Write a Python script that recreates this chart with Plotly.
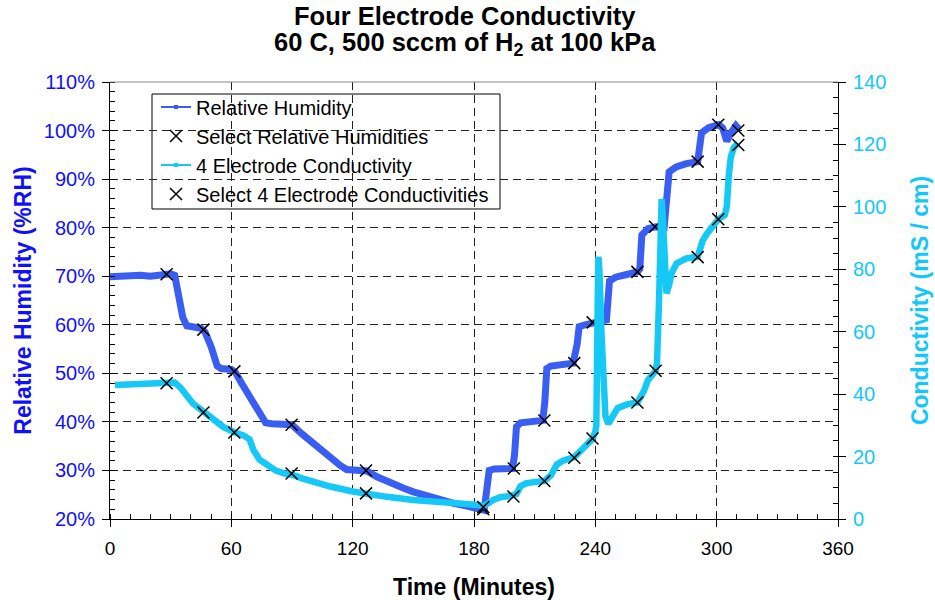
import plotly.graph_objects as go

# ---------------- data ----------------
rh_time = [0, 5, 10, 15, 20, 25, 30, 32, 34, 36, 38, 42, 45, 47, 50, 53, 55, 60, 62,
           65, 70, 74, 77, 80, 85, 90, 95, 100, 105, 110, 114, 117, 122, 127, 132, 137,
           145, 150, 157, 163, 170, 176, 183, 185, 186, 187.5, 190, 195, 199, 200, 201,
           203, 208, 214, 215, 216, 218, 223, 229, 231, 232, 235, 238.5, 243, 245.5,
           247, 250, 255, 260.8, 262, 263, 266, 270, 274, 275.5, 276.5, 280, 285, 290.6,
           291.5, 292.5, 296, 301, 303, 305, 307, 309.5, 311]
rh_value = [69.9, 70.1, 70.3, 70.2, 70.0, 70.3, 70.5, 70.2, 66.0, 61.5, 59.8, 59.6, 59.3,
            58.5, 55.5, 51.5, 51.0, 50.8, 50.2, 48.0, 44.5, 41.5, 39.8, 39.6, 39.6, 39.4,
            37.5, 35.7, 34.0, 32.3, 31.0, 30.2, 30.1, 29.9, 28.7, 27.7, 26.4, 25.6, 24.7,
            23.9, 23.2, 22.7, 22.0, 21.8, 25.0, 30.0, 30.3, 30.4, 30.4, 33.0, 39.0, 39.8,
            40.0, 40.3, 44.0, 51.0, 51.5, 51.8, 52.1, 56.0, 59.6, 60.0, 60.4, 61.0, 61.0,
            69.0, 69.8, 70.3, 70.9, 71.5, 78.5, 79.8, 80.2, 80.0, 86.0, 91.5, 92.5, 93.2,
            93.6, 96.0, 99.5, 100.6, 101.2, 100.5, 97.8, 99.5, 101.0, 100.3]

cond_time = [2.5, 10, 20, 28, 32, 35, 38, 41, 44, 47, 52, 56, 61.5, 66, 69, 71, 74, 78,
             82, 86, 90, 95, 100, 109, 120, 127, 137, 150, 163, 176, 183, 185, 189.5,
             193, 198, 201, 203, 206, 214.8, 218, 221, 224, 229.6, 233, 236, 238.5, 240,
             240.5, 241, 241.5, 242, 243, 244, 245, 246.4, 248, 251, 256, 260.8, 264, 266,
             269.8, 270.5, 271.5, 272.3, 272.8, 273.5, 274.3, 275.2, 276.5, 277.7, 280.2,
             285, 290.6, 293, 295.3, 298.6, 300.8, 304, 305, 306, 307, 308.5, 310.5]
cond_value = [42.9, 43.1, 43.3, 43.5, 43.7, 42.0, 39.5, 37.0, 35.5, 34.0, 31.5, 29.5, 27.8,
              26.8, 25.5, 22.0, 19.0, 17.0, 15.5, 14.6, 14.2, 13.0, 11.9, 10.4, 8.8, 8.3,
              7.1, 6.1, 5.2, 4.8, 4.4, 4.2, 6.1, 7.0, 7.4, 8.0, 10.5, 11.5, 12.2, 14.0,
              17.5, 18.7, 19.8, 22.0, 24.5, 25.6, 28.0, 30.0, 60.0, 84.0, 80.0, 60.0, 42.0,
              33.0, 30.5, 32.5, 35.5, 36.8, 37.3, 41.0, 44.5, 47.5, 50.0, 70.0, 100.0,
              102.5, 95.0, 85.0, 72.3, 75.0, 78.7, 81.9, 83.5, 84.0, 89.0, 91.5, 94.7,
              96.0, 97.4, 100.0, 110.0, 116.0, 119.0, 120.5]

sel_rh_time = [28, 46.2, 61.5, 89.8, 126.6, 184.6, 199.7, 214.8, 229.6, 238.7, 260.8,
               269.5, 290.6, 300.8, 310.7]
sel_rh_value = [70.4, 59.0, 50.4, 39.4, 30.0, 22.0, 30.4, 40.3, 52.1, 60.5, 70.9, 80.2,
                93.6, 101.2, 100.0]

sel_cond_time = [28, 46.2, 61.5, 89.8, 126.6, 184.6, 199.5, 214.8, 229.6, 238.6, 260.8,
                 269.8, 290.6, 300.8, 310.7]
sel_cond_value = [43.5, 34.1, 27.7, 14.6, 8.2, 3.8, 7.2, 12.2, 19.6, 25.8, 37.3, 47.5,
                  83.9, 96.0, 119.8]

x_ticks = [0, 60, 120, 180, 240, 300, 360]
rh_ticks = [20, 30, 40, 50, 60, 70, 80, 90, 100, 110]
cond_ticks = [0, 20, 40, 60, 80, 100, 120, 140]

title_lines = ["Four Electrode Conductivity", "60 C, 500 sccm of H<sub>2</sub> at 100 kPa"]

# ---------------- style ----------------
FONT = "Liberation Sans, Arial, sans-serif"
RH_COLOR = "#3A5EF2"
COND_COLOR = "#16C8F5"
RH_TEXT = "#1010FF"
COND_TEXT = "#10C8FF"
GRID = "#222222"

fig = go.Figure()

fig.add_trace(go.Scatter(
    x=rh_time, y=rh_value, mode="lines", name="Relative Humidity",
    line=dict(color=RH_COLOR, width=7), showlegend=False, yaxis="y"))
fig.add_trace(go.Scatter(
    x=cond_time, y=cond_value, mode="lines", name="4 Electrode Conductivity",
    line=dict(color=COND_COLOR, width=6.5), showlegend=False, yaxis="y2"))
fig.add_trace(go.Scatter(
    x=sel_rh_time, y=sel_rh_value, mode="markers", name="Select Relative Humidities",
    marker=dict(symbol="x-thin", size=12, color="black",
                line=dict(color="black", width=1.5)),
    legendrank=2, legendgroup="b", yaxis="y"))
fig.add_trace(go.Scatter(
    x=sel_cond_time, y=sel_cond_value, mode="markers",
    name="Select 4 Electrode Conductivities",
    marker=dict(symbol="x-thin", size=12, color="black",
                line=dict(color="black", width=1.5)),
    legendrank=4, legendgroup="d", yaxis="y2"))
# legend-only entries (thin line + small square marker, as in the reference legend)
fig.add_trace(go.Scatter(
    x=[None], y=[None], mode="lines+markers", name="Relative Humidity",
    line=dict(color=RH_COLOR, width=2), marker=dict(symbol="square", size=4, color=RH_COLOR),
    legendrank=1, legendgroup="a", yaxis="y"))
fig.add_trace(go.Scatter(
    x=[None], y=[None], mode="lines+markers", name="4 Electrode Conductivity",
    line=dict(color=COND_COLOR, width=2), marker=dict(symbol="square", size=4, color=COND_COLOR),
    legendrank=3, legendgroup="c", yaxis="y2"))

fig.update_layout(
    width=935, height=600,
    margin=dict(l=110, r=97, t=82, b=81, autoexpand=False),
    paper_bgcolor="white", plot_bgcolor="white",
    font=dict(family=FONT, color="black"),
    legend=dict(
        x=0.0632, y=0.9874, xanchor="left", yanchor="top",
        bgcolor="rgba(0,0,0,0)", borderwidth=0,
        font=dict(size=20, family=FONT, color="black"),
        traceorder="grouped", tracegroupgap=0),
    xaxis=dict(
        range=[0, 360], tickvals=x_ticks, ticktext=[str(v) for v in x_ticks],
        showline=True, linecolor="black", linewidth=1, automargin=False,
        ticks="outside", ticklen=7, tickcolor="black",
        minor=dict(dtick=10, ticks="inside", ticklen=5, tickcolor="black", showgrid=False),
        showgrid=True, gridcolor=GRID, griddash="8px,5px", gridwidth=1,
        zeroline=False,
        tickfont=dict(size=19, family=FONT, color="black"),
        ticklabelstandoff=5,
        title=dict(text="<b>Time (Minutes)</b>", font=dict(size=23, family=FONT, color="black"),
                   standoff=22)),
    yaxis=dict(
        range=[20, 110], tickvals=rh_ticks, ticktext=[f"{v}%" for v in rh_ticks],
        showline=True, linecolor="black", linewidth=1, automargin=False,
        ticks="outside", ticklen=7, tickcolor="black",
        minor=dict(dtick=2, ticks="inside", ticklen=5, tickcolor="black", showgrid=False),
        showgrid=True, gridcolor=GRID, griddash="8px,5px", gridwidth=1,
        zeroline=False,
        tickfont=dict(size=20, family=FONT, color=RH_TEXT),
        ticklabelstandoff=3,
        title=dict(text="<b>Relative Humidity (%RH)</b>",
                   font=dict(size=23, family=FONT, color=RH_TEXT), standoff=5)),
    yaxis2=dict(
        range=[0, 140], tickvals=cond_ticks, ticktext=[str(v) for v in cond_ticks],
        overlaying="y", side="right", automargin=False,
        showline=True, linecolor="black", linewidth=1,
        ticks="outside", ticklen=7, tickcolor="black",
        minor=dict(dtick=5, ticks="inside", ticklen=5, tickcolor="black", showgrid=False),
        showgrid=False, zeroline=False,
        tickfont=dict(size=20, family=FONT, color=COND_TEXT),
        ticklabelstandoff=3,
        title=dict(text="<b>Conductivity (mS / cm)</b>",
                   font=dict(size=23, family=FONT, color=COND_TEXT), standoff=26)),
    shapes=[
        dict(type="line", xref="paper", yref="paper", x0=0, x1=1, y0=1, y1=1,
             line=dict(color="#888888", width=1)),
        # legend frame
        dict(type="rect", xref="paper", yref="paper", x0=0.0577, x1=0.5357,
             y0=0.7094, y1=0.9725, fillcolor="white", layer="between",
             line=dict(color="black", width=1)),
    ],
    annotations=[
        dict(text="<b>" + title_lines[0] + "</b>", xref="paper", yref="paper",
             x=0.488, y=1.151, xanchor="center", yanchor="middle", showarrow=False,
             font=dict(size=25.5, family=FONT, color="black")),
        dict(text="<b>" + title_lines[1] + "</b>", xref="paper", yref="paper",
             x=0.488, y=1.087, xanchor="center", yanchor="middle", showarrow=False,
             font=dict(size=25.5, family=FONT, color="black")),
    ],
)

fig.write_html("out.html", config={"displayModeBar": False},
               post_script="document.body.style.margin='0px';")
